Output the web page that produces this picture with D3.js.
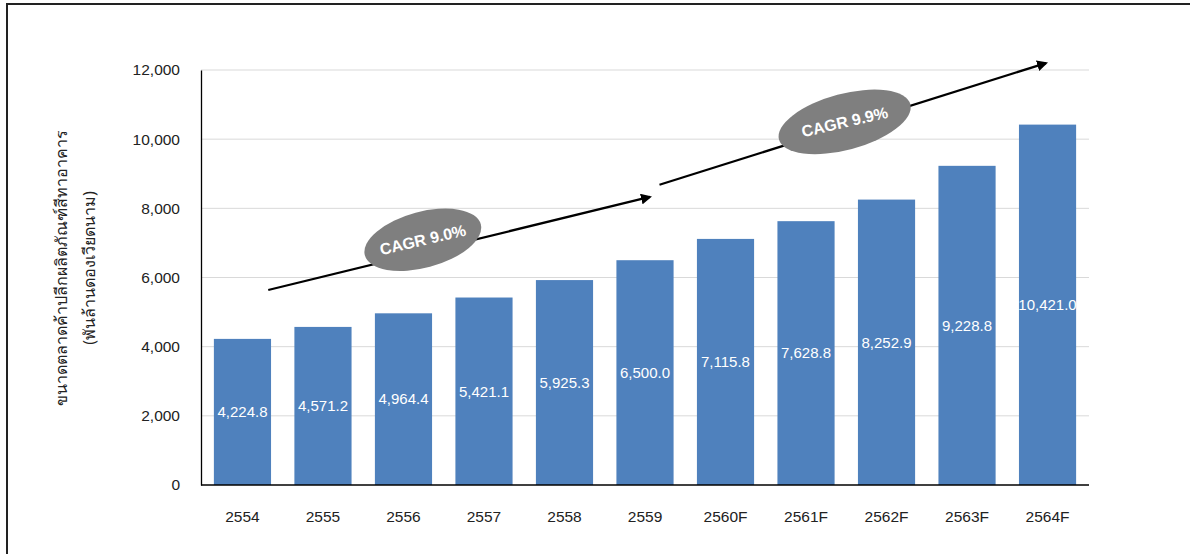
<!DOCTYPE html>
<html><head><meta charset="utf-8">
<script src="https://cdn.jsdelivr.net/npm/d3@7"></script>
<style>body{margin:0;background:#fff}svg{display:block}</style>
</head><body>
<script>
const categories = ["2554","2555","2556","2557","2558","2559","2560F","2561F","2562F","2563F","2564F"];
const values = [4224.8,4571.2,4964.4,5421.1,5925.3,6500.0,7115.8,7628.8,8252.9,9228.8,10421.0];
const yTicks = [0,2000,4000,6000,8000,10000,12000];
const yTitle1 = "ขนาดตลาดค้าปลีกผลิตภัณฑ์สีทาอาคาร";
const yTitle2 = "(พันล้านดองเวียดนาม)";
const cagrLabels = ["CAGR 9.0%","CAGR 9.9%"];
// annotation anchors: [fractional category index from first bar centre, value]
const arrows = [
  {from:[0.32,5640], to:[5.06,8330]},
  {from:[5.18,8680], to:[9.98,12200]}
];
const ellipses = [
  {at:[2.24,7090], label:cagrLabels[0]},
  {at:[7.48,10500], label:cagrLabels[1]}
];

const W=1190,H=554;
const svg=d3.select("body").append("svg").attr("width",W).attr("height",H);
const font="Liberation Sans, Arial, sans-serif";
// frame
svg.append("path").attr("d","M7,554V4H1190").attr("fill","none").attr("stroke","#222").attr("stroke-width",2);

const x=d3.scaleBand().domain(categories).range([201,1089]).paddingInner(0.29).paddingOuter(0.16);
const y=d3.scaleLinear().domain([0,12000]).range([485,70]);

// grid
svg.append("g").selectAll("line").data(yTicks.filter(d=>d>0)).join("line")
  .attr("x1",201).attr("x2",1089).attr("y1",d=>y(d)).attr("y2",d=>y(d))
  .attr("stroke","#d9d9d9").attr("stroke-width",1);

// y axis
const ya=svg.append("g").attr("transform","translate(201,0)")
  .call(d3.axisLeft(y).tickValues(yTicks).tickSize(0).tickPadding(21).tickFormat(d3.format(",")));
ya.select(".domain").attr("stroke","#000").attr("stroke-width",1.3);
ya.selectAll("text").attr("font-family",font).attr("font-size",15.5).attr("fill","#222");

// bars
svg.append("g").selectAll("rect").data(values).join("rect")
  .attr("x",(d,i)=>x(categories[i])).attr("width",x.bandwidth())
  .attr("y",d=>y(d)).attr("height",d=>y(0)-y(d)).attr("fill","#4f81bd");

svg.append("g").selectAll("text").data(values).join("text")
  .attr("x",(d,i)=>x(categories[i])+x.bandwidth()/2).attr("y",d=>(y(d)+y(0))/2)
  .attr("dy","0.35em").attr("text-anchor","middle").attr("font-family",font).attr("font-size",15).attr("fill","#fff")
  .text(d=>d3.format(",.1f")(d));

// x axis
const xa=svg.append("g").attr("transform","translate(0,485)")
  .call(d3.axisBottom(x).tickSize(0).tickPadding(26));
xa.select(".domain").attr("stroke","#000").attr("stroke-width",1.3).attr("d","M201,0H1089");
xa.selectAll("text").attr("font-family",font).attr("font-size",15.5).attr("fill","#222");

// y title
const tg=svg.append("g").attr("transform","translate(67,268) rotate(-90)");
tg.append("text").attr("text-anchor","middle").attr("font-family","Noto Sans, sans-serif").attr("font-size",16).attr("fill","#222").attr("y",0).text(yTitle1);
tg.append("text").attr("text-anchor","middle").attr("font-family","Noto Sans, sans-serif").attr("font-size",16).attr("fill","#222").attr("y",28).text(yTitle2);

// arrows
const defs=svg.append("defs");
defs.append("marker").attr("id","ah").attr("viewBox","0 0 10 10").attr("refX",8).attr("refY",5)
  .attr("markerWidth",5).attr("markerHeight",5).attr("orient","auto")
  .append("path").attr("d","M0,0L10,5L0,10z").attr("fill","#000");
const c0=x(categories[0])+x.bandwidth()/2;
const px=v=>c0+v*x.step();
svg.append("g").selectAll("line").data(arrows).join("line")
  .attr("x1",d=>px(d.from[0])).attr("y1",d=>y(d.from[1]))
  .attr("x2",d=>px(d.to[0])).attr("y2",d=>y(d.to[1]))
  .attr("stroke","#000").attr("stroke-width",2.2).attr("marker-end","url(#ah)");

// ellipses
const eg=svg.append("g").selectAll("g").data(ellipses).join("g")
  .attr("transform",d=>`translate(${px(d.at[0])},${y(d.at[1])}) rotate(-15)`);
eg.append("ellipse").attr("rx",(d,i)=>i?68:60).attr("ry",28).attr("fill","#7f7f7f");
eg.append("text").attr("text-anchor","middle").attr("dy","0.35em").attr("transform","rotate(2)").attr("font-family",font)
  .attr("font-weight","bold").attr("font-size",16).attr("fill","#fff").text(d=>d.label);
</script>
</body></html>
